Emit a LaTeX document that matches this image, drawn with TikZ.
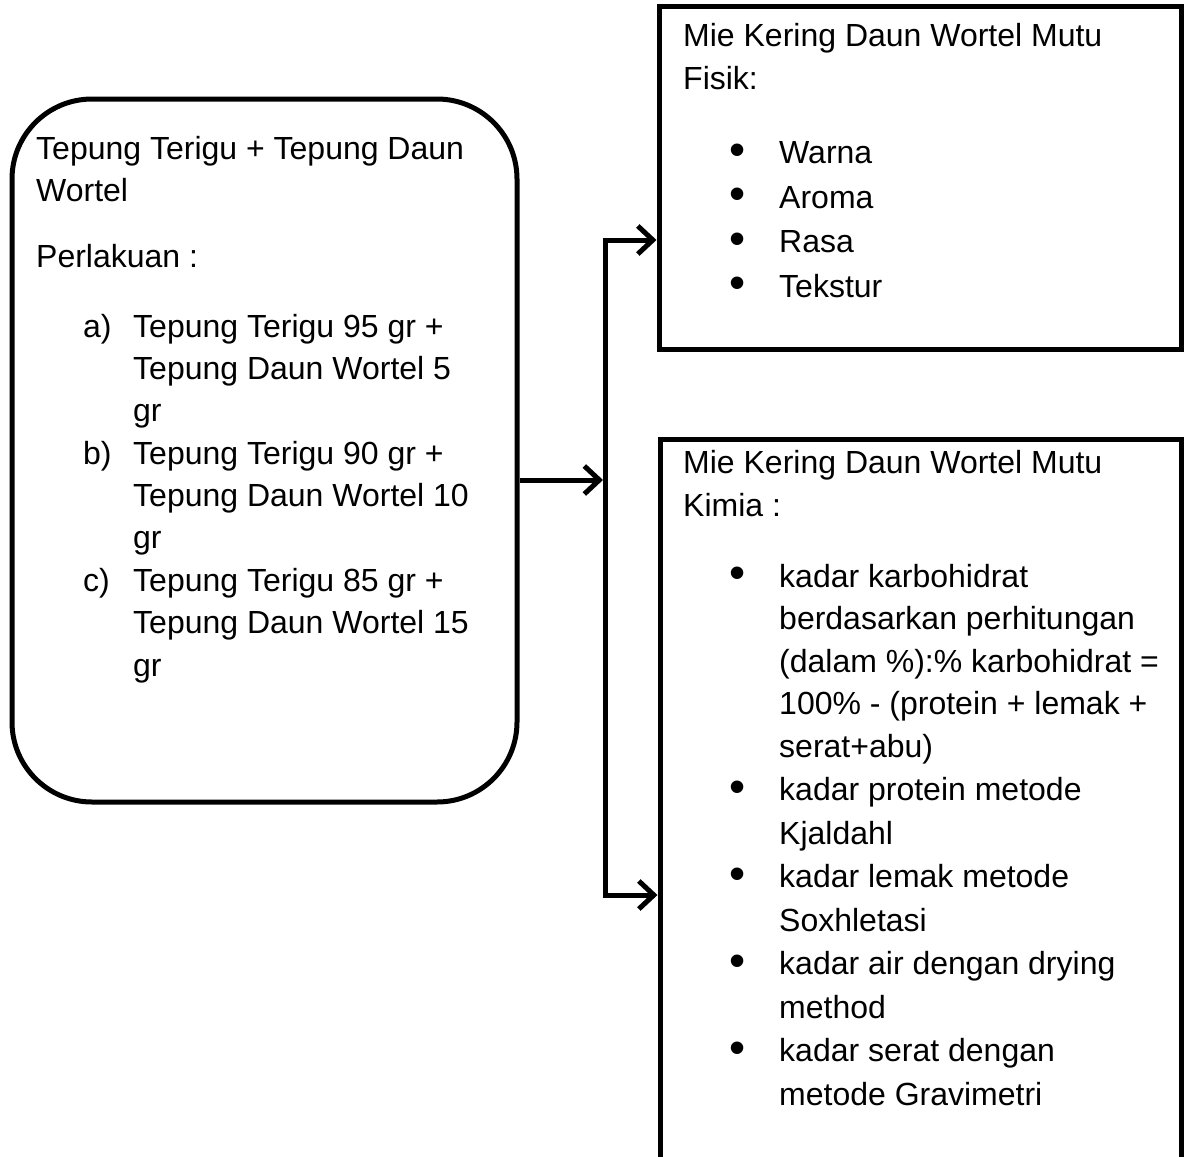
\documentclass[tikz,border=0pt]{standalone}
\usepackage{fontspec}
\setmainfont{Liberation Sans}
\usetikzlibrary{arrows.meta}

\newcommand*{\butir}{\textbullet}

\begin{document}
\begin{tikzpicture}[x=1pt, y=-1pt]
  \useasboundingbox (0,0) rectangle (1185,1156);

  {\tikzstyle{every node}=[draw, line width=5pt, inner sep=0pt]
    \node[rounded corners=80pt, minimum width=505pt, minimum height=703pt] (bahan) at (264.5,450.5) {};
    \node[minimum width=522pt, minimum height=342pt] (fisik) at (920,178) {};
    \node[minimum width=521pt, minimum height=751pt] (kimia) at (920.5,814.5) {};
  }

  {\tikzstyle{every node}=[anchor=base west, inner sep=0pt, font=\fontsize{32}{38}\selectfont]
    \foreach \y/\t [count=\i] in {159/Tepung Terigu + Tepung Daun, 201.5/Wortel, 267/Perlakuan :}
    {
      \node (b\i) at (36,\y) {\t};
    }
    \foreach \y/\t [count=\i] in {337/a), 464/b), 591/c)}
    {
      \node (p\i) at (83,\y) {\t};
    }
    \foreach \t [count=\i] in {Tepung Terigu 95 gr +, Tepung Daun Wortel 5, gr,
                               Tepung Terigu 90 gr +, Tepung Daun Wortel 10, gr,
                               Tepung Terigu 85 gr +, Tepung Daun Wortel 15, gr}
    {
      \node (q\i) at (133,{337+(\i-1)*42.375}) {\t};
    }

    \foreach \y/\t [count=\i] in {47/Mie Kering Daun Wortel Mutu, 89.5/Fisik:}
    {
      \node (f\i) at (683,\y) {\t};
    }
    \foreach \t [count=\i] in {Warna, Aroma, Rasa, Tekstur}
    {
      \node[anchor=center, font=\fontsize{46}{46}\selectfont] (fb\i) at (738,{154.5+(\i-1)*44.5}) {\butir};
      \node (fs\i) at (779,{163.5+(\i-1)*44.5}) {\t};
    }

    \foreach \y/\t [count=\i] in {473.5/Mie Kering Daun Wortel Mutu, 516/Kimia :}
    {
      \node (k\i) at (683,\y) {\t};
    }
    \foreach \y [count=\i] in {587, 800.5, 887.5, 974.5, 1061.5}
    {
      \node[anchor=center, font=\fontsize{46}{46}\selectfont] (kb\i) at (738,\y-9) {\butir};
    }
    \foreach \y/\t [count=\i] in {587/kadar karbohidrat, 629.5/berdasarkan perhitungan,
                                  672/(dalam \%):\% karbohidrat =, 714.5/100\% - (protein + lemak +,
                                  757/serat+abu), 800.5/kadar protein metode, 844/Kjaldahl,
                                  887.5/kadar lemak metode, 931/Soxhletasi,
                                  974.5/kadar air dengan drying, 1018/method,
                                  1061.5/kadar serat dengan, 1105/metode Gravimetri}
    {
      \node (ks\i) at (779,\y) {\t};
    }
  }

  \coordinate (cabang) at (605,480);
  \coordinate (atas) at (605,240);
  \coordinate (bawah) at (605,895);

  \draw[line width=5pt, -{Straight Barb[length=15pt, width=28pt]}, shorten >=2pt]
    (bahan.east |- cabang) -- (cabang);
  \draw[line width=5pt, {Straight Barb[length=15pt, width=28pt]}-{Straight Barb[length=15pt, width=28pt]}]
    (fisik.west |- atas) -- (atas) -- (bawah) -- (kimia.west |- bawah);
\end{tikzpicture}
\end{document}
